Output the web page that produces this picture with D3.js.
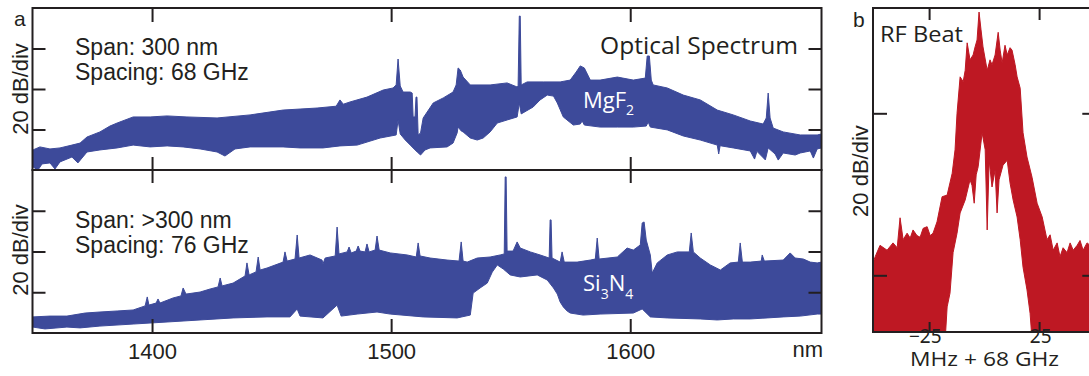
<!DOCTYPE html>
<html>
<head>
<meta charset="utf-8">
<script src="https://cdn.jsdelivr.net/npm/d3@7"></script>
<style>
  html, body { margin: 0; padding: 0; background: #fff; }
  svg { display: block; }
  .helv { font-family: "Liberation Sans", Arial, Helvetica, sans-serif; }
  .myr { font-family: "Open Sans", "Noto Sans", sans-serif; }
  .num { font-family: "Noto Sans", "Open Sans", sans-serif; }
</style>
</head>
<body>
<svg id="fig" width="1089" height="376"></svg>
<script>
// ---- axis ticks ----
const nmTicks = [1400, 1500, 1600];
const dbTicks = [20, 40, 60];
const rfTicks = [-25, 25];
const rfDbTicks = [-40, -20];

// ---- MgF2 comb: upper and lower envelope of the optical spectrum (nm, dB) ----
const mgf2UpperNm = [1350.2,1353.1,1357.3,1361.5,1366.5,1369.9,1372.8,1378.2,1382.4,1385.4,1392.1,1399.2,1406.3,1414.6,1427.2,1441.0,1454.8,1469.0,1477.0,1478.6,1480.0,1482.8,1489.9,1496.7,1500.8,1502.1,1502.9,1503.8,1505.0,1508.0,1508.8,1509.2,1510.0,1510.4,1510.8,1511.3,1512.3,1513.4,1517.6,1521.8,1525.9,1527.2,1528.0,1528.9,1530.1,1533.1,1541.4,1548.5,1552.7,1553.1,1553.6,1554.0,1554.4,1556.9,1563.6,1570.7,1574.9,1577.4,1579.1,1580.8,1583.3,1587.4,1594.6,1601.3,1606.3,1607.1,1608.0,1608.8,1609.6,1615.5,1622.2,1629.3,1636.4,1643.1,1650.2,1655.6,1656.9,1657.7,1658.5,1659.8,1664.0,1671.1,1678.2,1680.0];
const mgf2UpperDb = [9.9,11.4,10.4,10.9,12.3,13.3,16.3,18.8,21.7,23.2,26.2,26.2,26.7,26.2,25.7,27.2,29.6,30.6,31.5,34.6,32.5,33.6,36.0,39.5,40.5,42.0,54.8,41.5,38.5,38.5,38.0,26.2,26.2,36.0,36.0,17.3,18.3,25.7,33.1,35.6,38.5,42.0,50.4,49.4,45.9,42.0,42.0,43.0,41.0,41.5,76.0,76.0,42.0,43.5,43.5,43.5,44.4,48.4,51.4,50.4,44.4,44.4,45.9,44.4,45.4,56.3,56.3,44.4,42.0,40.5,37.0,34.6,29.6,27.2,24.2,22.7,25.7,38.0,25.7,20.7,18.8,17.3,17.3,17.8];
const mgf2LowerNm = [1350.2,1352.3,1354.0,1357.3,1359.4,1361.5,1366.5,1369.0,1372.8,1378.2,1385.4,1392.1,1399.2,1406.3,1413.0,1420.1,1427.2,1430.5,1434.7,1441.0,1454.8,1461.9,1471.5,1478.6,1485.8,1495.4,1502.1,1502.9,1503.8,1505.9,1508.0,1510.0,1510.9,1512.3,1514.2,1516.3,1523.4,1525.9,1527.6,1528.0,1529.3,1530.1,1533.1,1536.0,1538.5,1541.4,1544.4,1548.5,1552.7,1553.6,1554.4,1559.4,1562.3,1565.3,1567.9,1569.5,1572.0,1576.2,1579.1,1579.9,1580.8,1587.4,1594.6,1601.3,1606.7,1607.5,1608.4,1615.5,1622.2,1629.3,1636.4,1637.0,1637.6,1643.1,1650.2,1652.0,1653.0,1656.5,1657.3,1657.7,1660.6,1661.9,1664.0,1669.0,1671.1,1675.3,1676.6,1678.2,1680.0];
const mgf2LowerDb = [1.5,0,3.0,3.5,0.5,4.0,6.4,3.5,8.9,9.9,10.9,12.3,11.4,11.9,11.4,10.4,8.9,6.9,10.4,11.4,11.4,10.9,10.9,11.9,12.3,15.8,17.3,24.7,17.8,14.8,12.3,9.9,8.9,7.4,9.9,10.9,11.4,13.3,18.3,21.2,19.3,18.8,15.8,14.8,15.8,18.8,23.2,24.7,26.2,33.1,27.7,31.1,34.6,37.0,36.5,33.1,26.2,22.2,22.7,24.2,22.2,21.2,21.2,21.2,21.7,23.7,21.2,19.8,16.8,14.8,12.3,7.9,12.0,10.9,9.4,5.4,9.2,5.0,8.9,10.9,7.9,4.9,8.4,7.4,8.4,9.4,5.9,10.4,10.9];

// ---- Si3N4 comb: upper and lower envelope (nm, dB) ----
const si3n4UpperNm = [1350.2,1357.3,1364.4,1372.0,1378.2,1385.4,1392.1,1397.1,1398.0,1398.7,1401.7,1402.5,1403.3,1408.8,1412.1,1413.0,1414.2,1420.1,1424.3,1427.6,1428.5,1429.3,1433.9,1438.9,1439.7,1440.6,1443.5,1444.4,1445.2,1448.1,1454.8,1455.6,1456.5,1459.8,1460.7,1461.5,1466.1,1471.1,1471.5,1472.4,1476.6,1477.4,1478.2,1481.6,1482.4,1483.3,1485.4,1486.2,1487.0,1489.1,1489.9,1490.8,1493.3,1494.1,1495.0,1499.6,1506.7,1510.5,1511.3,1512.1,1516.3,1523.4,1528.4,1529.3,1530.1,1531.8,1536.0,1541.4,1545.6,1547.3,1547.7,1548.1,1548.5,1551.0,1552.7,1554.0,1558.2,1562.3,1566.1,1566.5,1566.9,1567.3,1570.7,1571.5,1572.4,1577.8,1583.3,1585.4,1586.2,1587.0,1594.6,1598.7,1601.3,1604.2,1605.0,1605.8,1606.7,1608.4,1609.2,1611.3,1615.5,1619.7,1624.7,1625.5,1626.4,1629.3,1633.5,1637.7,1641.8,1645.2,1646.0,1646.9,1650.2,1654.8,1655.2,1656.1,1664.0,1666.9,1669.0,1672.4,1675.3,1678.2,1680.0];
const si3n4UpperDb = [7.9,8.3,8.3,9.8,10.3,10.8,11.3,13.3,17.7,13.7,14.7,16.7,14.7,17.2,18.2,22.1,19.1,20.1,21.6,22.6,27.0,23.1,24.5,28.0,34.4,28.5,30.0,37.3,30.9,31.9,34.8,39.8,35.3,36.3,48.1,36.8,38.3,35.8,33.9,36.8,37.8,52.0,38.8,39.8,42.2,39.3,40.2,42.7,40.2,39.8,43.7,39.8,40.7,47.6,40.7,39.3,38.3,37.3,44.2,37.8,36.8,35.8,35.3,44.7,35.3,34.8,36.8,37.3,38.3,38.8,76.6,76.6,40.2,40.2,44.7,41.7,39.8,38.3,36.8,55.5,55.5,36.8,34.8,39.8,34.8,34.8,35.8,36.3,46.6,36.3,37.3,41.7,40.7,43.2,54.0,54.5,45.6,38.3,29.4,34.4,38.3,39.8,39.8,49.1,39.8,36.8,33.4,30.9,34.4,34.8,44.2,34.8,34.8,35.3,38.3,35.3,35.8,39.3,36.8,36.3,34.8,34.4,34.8];
const si3n4LowerNm = [1350.2,1355.2,1364.4,1369.9,1378.2,1392.1,1406.3,1420.1,1433.9,1448.1,1457.7,1460.7,1461.9,1471.5,1477.4,1479.1,1485.8,1494.1,1499.6,1513.4,1527.6,1533.1,1534.3,1537.2,1540.2,1542.3,1544.4,1546.9,1549.8,1554.0,1561.1,1565.3,1567.9,1569.5,1570.7,1572.0,1573.6,1574.9,1580.3,1587.4,1601.3,1605.0,1608.4,1615.5,1629.3,1636.4,1643.1,1650.2,1657.3,1664.0,1671.1,1678.2,1680.0];
const si3n4LowerDb = [2.9,2.0,2.9,2.5,3.4,4.4,5.4,6.4,7.4,7.9,7.9,11.8,8.3,7.4,13.7,8.3,9.3,10.3,9.3,7.9,7.4,8.8,19.6,22.1,24.5,29.9,33.4,31.4,28.5,27.5,28.5,26.0,22.1,19.1,15.2,12.8,10.8,9.8,8.8,9.3,9.8,11.8,7.9,7.4,6.9,6.4,6.9,6.9,7.4,7.9,8.3,9.3,9.3];

// ---- RF beat note around 68 GHz (MHz offset, dB) ----
const rfUpperMhz = [-50.5,-49.5,-47.3,-44.1,-41.4,-39.5,-38.2,-36.8,-35.0,-33.6,-32.3,-30.5,-29.1,-27.7,-25.9,-24.5,-23.2,-21.4,-19.1,-16.8,-14.5,-13.2,-12.3,-10.9,-9.5,-8.6,-7.7,-6.4,-5.0,-4.1,-3.2,-2.3,-1.4,-0.5,1.4,2.7,3.6,5.0,6.4,7.3,8.2,9.5,10.5,11.8,12.7,14.1,15.0,16.4,17.7,19.5,21.8,24.1,26.4,28.6,30.0,31.4,33.2,34.5,35.9,37.7,39.1,40.5,42.3,43.6,45.0,46.8,48.2,51.0];
const rfUpperDb = [-38.5,-37.7,-36.3,-36.9,-36.0,-36.6,-32.9,-35.6,-34.8,-35.4,-34.4,-35.1,-35.3,-34.2,-34.0,-35.1,-34.8,-33.4,-30.3,-30.1,-27.4,-24.5,-20.0,-15.5,-16.1,-14.7,-11.3,-13.4,-12.8,-11.8,-10.95,-7.5,-9.7,-11.8,-14.7,-13.4,-14.0,-12.8,-10.0,-12.2,-13.8,-11.6,-12.8,-11.9,-12.2,-14.0,-15.5,-16.9,-22.4,-25.4,-27.9,-31.1,-32.8,-35.6,-35.0,-36.9,-36.0,-37.7,-36.6,-37.2,-36.0,-36.9,-36.3,-35.7,-36.9,-36.0,-36.3,-36.5];
const rfLowerMhz = [-50.5,-17.7,-16.8,-15.5,-14.1,-12.3,-10.9,-8.6,-6.4,-5.5,-4.5,-3.6,-2.7,-0.9,0.5,1.4,2.3,3.6,5.0,5.9,6.8,8.6,10.5,11.8,13.2,15.0,16.4,17.7,19.5,20.9,21.8,51.0];
const rfLowerDb = [-48,-48,-43.9,-42.2,-37.2,-34.8,-32.3,-30.7,-28.2,-28.9,-31.1,-27.6,-26.6,-22.4,-24.5,-34.4,-25.8,-29.1,-27.0,-32.3,-28.2,-26.4,-25.8,-28.6,-30.7,-32.8,-35.6,-39.0,-41.8,-44.7,-48,-48];

// ---- layout ----
const ink = "#231f20", blue = "#3d4a9a", red = "#be1823";
const svg = d3.select("#fig");

const x = d3.scaleLinear().domain([1350, 1680]).range([32.5, 821.5]);
const yTop = d3.scaleLinear().domain([0, 80]).range([170, 8]);
const yBot = d3.scaleLinear().domain([0, 80]).range([333, 170]);
const xRf = d3.scaleLinear().domain([-50.5, 51]).range([873, 1096.3]);
const yRf = d3.scaleLinear().domain([-47, -7]).range([332, 8]);

const defs = svg.append("defs");
function clip(id, x0, y0, x1, y1) {
  defs.append("clipPath").attr("id", id)
    .append("rect").attr("x", x0).attr("y", y0).attr("width", x1 - x0).attr("height", y1 - y0);
}
clip("clipTop", x.range()[0], yTop.range()[1], x.range()[1], yTop.range()[0]);
clip("clipBot", x.range()[0], yBot.range()[1], x.range()[1], yBot.range()[0]);
clip("clipRf", xRf.range()[0], yRf.range()[1], xRf.range()[1], yRf.range()[0]);

// filled envelope between an upper and a lower trace
function band(xs, ys, upX, upY, loX, loY, color, clipId) {
  const pts = upX.map((v, i) => [v, upY[i]])
    .concat(loX.map((v, i) => [v, loY[i]]).reverse());
  const line = d3.line().x(d => xs(d[0])).y(d => ys(d[1]));
  svg.append("path")
    .attr("d", line(pts) + "Z")
    .attr("fill", color)
    .attr("stroke", color)
    .attr("stroke-width", 1)
    .attr("stroke-linejoin", "round")
    .attr("clip-path", `url(#${clipId})`);
}

band(x, yTop, mgf2UpperNm, mgf2UpperDb, mgf2LowerNm, mgf2LowerDb, blue, "clipTop");
band(x, yBot, si3n4UpperNm, si3n4UpperDb, si3n4LowerNm, si3n4LowerDb, blue, "clipBot");
band(xRf, yRf, rfUpperMhz, rfUpperDb, rfLowerMhz, rfLowerDb, red, "clipRf");

// ---- ticks ----
function styleAxis(g) {
  g.select(".domain").remove();
  g.selectAll("line").attr("stroke", ink).attr("stroke-width", 2);
}
function ticks(axis, tx, ty) {
  svg.append("g").attr("transform", `translate(${tx},${ty})`).call(axis).call(styleAxis);
}
const noLabel = () => "";

// wavelength axis: top, shared middle and bottom edges
ticks(d3.axisBottom(x).tickValues(nmTicks).tickSize(14).tickFormat(noLabel), 0, yTop.range()[1]);
ticks(d3.axisTop(x).tickValues(nmTicks).tickSize(13).tickFormat(noLabel), 0, yTop.range()[0]);
ticks(d3.axisBottom(x).tickValues(nmTicks).tickSize(13).tickFormat(noLabel), 0, yBot.range()[1]);
const bottomAxis = svg.append("g").attr("transform", `translate(0,${yBot.range()[0]})`)
  .call(d3.axisBottom(x).tickValues(nmTicks).tickSizeInner(-14).tickSizeOuter(0).tickPadding(10).tickFormat(d3.format("d")))
  .call(styleAxis);
bottomAxis.selectAll("text").attr("class", "helv").attr("font-size", 22).attr("fill", ink).attr("font-family", null);

// dB ticks, left and right of both optical panels
[yTop, yBot].forEach(ys => {
  ticks(d3.axisRight(ys).tickValues(dbTicks).tickSize(13).tickFormat(noLabel), x.range()[0], 0);
  ticks(d3.axisLeft(ys).tickValues(dbTicks).tickSize(13).tickFormat(noLabel), x.range()[1], 0);
});

// RF panel ticks
ticks(d3.axisBottom(xRf).tickValues(rfTicks).tickSize(12).tickFormat(noLabel), 0, yRf.range()[1]);
ticks(d3.axisTop(xRf).tickValues(rfTicks).tickSize(10).tickFormat(noLabel), 0, yRf.range()[0]);
ticks(d3.axisRight(yRf).tickValues(rfDbTicks).tickSize(14).tickFormat(noLabel), xRf.range()[0], 0);
ticks(d3.axisLeft(yRf).tickValues(rfDbTicks).tickSize(14).tickFormat(noLabel), xRf.range()[1], 0);

// ---- frames ----
function frame(x0, y0, x1, y1) {
  svg.append("rect").attr("x", x0).attr("y", y0).attr("width", x1 - x0).attr("height", y1 - y0)
    .attr("fill", "none").attr("stroke", ink).attr("stroke-width", 2);
}
frame(x.range()[0], yTop.range()[1], x.range()[1], yTop.range()[0]);
frame(x.range()[0], yBot.range()[1], x.range()[1], yBot.range()[0]);
frame(xRf.range()[0], yRf.range()[1], xRf.range()[1], yRf.range()[0]);

// ---- text ----
function text(str, tx, ty, cls, size, opts = {}) {
  const t = svg.append("text").attr("x", tx).attr("y", ty).attr("class", cls)
    .attr("font-size", size).attr("fill", opts.fill || ink).text(str);
  if (opts.anchor) t.attr("text-anchor", opts.anchor);
  if (opts.rotate) t.attr("transform", `rotate(-90,${tx},${ty})`);
  if (opts.len) t.attr("textLength", opts.len).attr("lengthAdjust", "spacingAndGlyphs");
  return t;
}

text("a", 14, 26, "helv", 21);
text("20 dB/div", 28, 89, "helv", 22, { anchor: "middle", rotate: true });
text("20 dB/div", 28, 250, "helv", 22, { anchor: "middle", rotate: true });
text("Span: 300 nm", 75, 55, "helv", 23);
text("Spacing: 68 GHz", 75, 80, "helv", 23);
text("Span: >300 nm", 75, 228, "helv", 23);
text("Spacing: 76 GHz", 75, 253, "helv", 23);
text("nm", 823, 357, "helv", 22, { anchor: "end" });
text("Optical Spectrum", 600, 54, "myr", 24, { len: 198 });

// species labels with subscripts, drawn in white over the filled spectra
const mg = svg.append("text").attr("x", 583).attr("y", 108).attr("class", "myr")
  .attr("font-size", 22).attr("fill", "#fff");
mg.append("tspan").text("MgF");
mg.append("tspan").attr("dy", 7).attr("font-size", 14).text("2");

const si = svg.append("text").attr("x", 583).attr("y", 291).attr("class", "myr")
  .attr("font-size", 22).attr("fill", "#fff");
si.append("tspan").text("Si");
si.append("tspan").attr("dy", 8).attr("font-size", 14).text("3");
si.append("tspan").attr("dy", -8).text("N");
si.append("tspan").attr("dy", 8).attr("font-size", 14).text("4");

// RF panel text
text("b", 853, 27, "helv", 21);
text("RF Beat", 880, 42, "myr", 21, { len: 83 });
text("20 dB/div", 868, 171, "helv", 22, { anchor: "middle", rotate: true });
rfTicks.forEach(v => {
  text(v < 0 ? "\u2212" + Math.abs(v) : String(v), xRf(v) + 12.5, 343, "num", 19, { anchor: "end" });
});
text("MHz + 68 GHz", 984.5, 366, "myr", 20, { anchor: "middle", len: 149 });
</script>
</body>
</html>
